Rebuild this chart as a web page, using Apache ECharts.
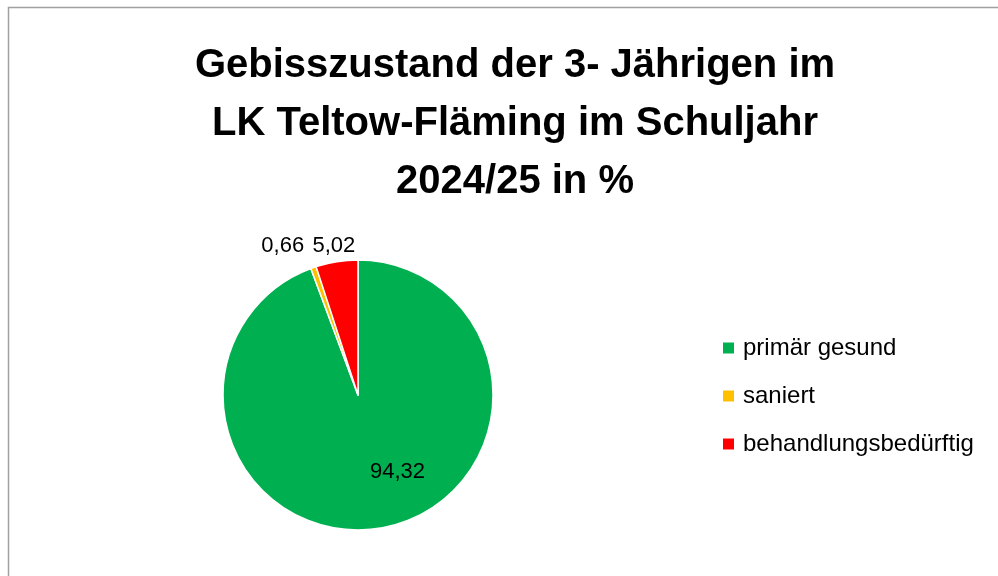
<!DOCTYPE html>
<html><head><meta charset="utf-8">
<script src="https://cdn.jsdelivr.net/npm/echarts@6/dist/echarts.min.js"></script>
<style>html,body{margin:0;padding:0;background:#fff}#c{width:998px;height:576px}</style>
</head><body><div id="c"></div>
<script>
const titleText = 'Gebisszustand der 3- Jährigen im\nLK Teltow-Fläming im Schuljahr\n2024/25 in %';
const categories = ['primär gesund', 'saniert', 'behandlungsbedürftig'];
const values = [94.32, 0.66, 5.02];
const colors = ['#00B050', '#FFC000', '#FF0000'];
const labelOffsets = [[27, 8], [-52, -83], [-13, -79]];

const chart = echarts.init(document.getElementById('c'));
const font = '"Liberation Sans", Arial, sans-serif';
chart.setOption({
  animation: false,
  graphic: [{
    type: 'rect', shape: {x: 8.5, y: 7.5, width: 1100, height: 700},
    style: {fill: 'none', stroke: '#a0a0a0', lineWidth: 1.5}, silent: true
  }],
  title: {
    text: titleText, left: 510, top: 32, textAlign: 'center',
    textStyle: {fontFamily: font, fontWeight: 'bold', fontSize: 40, lineHeight: 58, color: '#000'}
  },
  legend: {
    orient: 'vertical', left: 716, top: 329, itemWidth: 13, itemHeight: 13, itemGap: 20,
    icon: 'rect', data: categories,
    textStyle: {fontFamily: font, fontSize: 24, lineHeight: 28, color: '#000', padding: [0,0,0,3]}
  },
  series: [{
    type: 'pie', center: [358, 395], radius: 135, startAngle: 90, clockwise: true,
    itemStyle: {borderColor: '#fff', borderWidth: 1.5},
    label: {fontFamily: font, fontSize: 22, color: '#000'},
    labelLine: {show: false},
    emphasis: {disabled: true},
    data: categories.map((n, i) => ({
      name: n, value: values[i], itemStyle: {color: colors[i]},
      label: {show: true, position: 'inside', offset: labelOffsets[i],
        formatter: p => p.value.toFixed(2).replace('.', ',')}
    }))
  }]
});
</script></body></html>
